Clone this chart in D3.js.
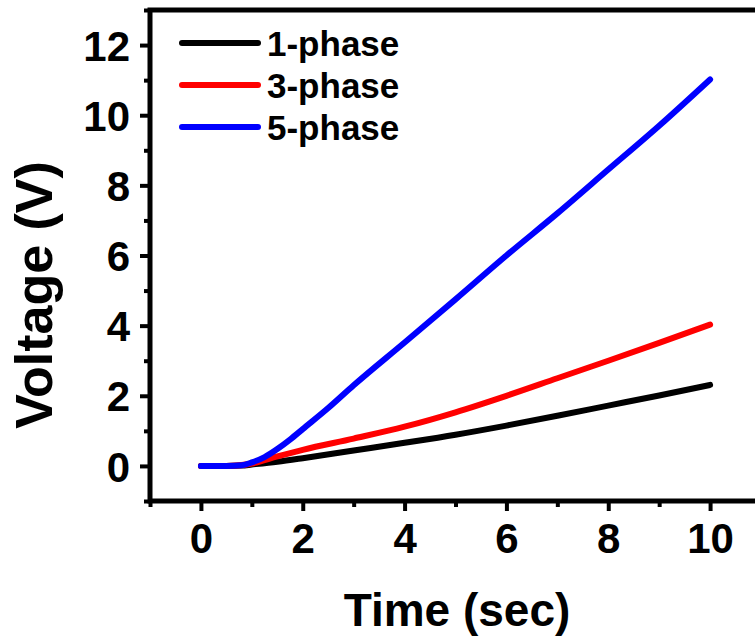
<!DOCTYPE html>
<html>
<head>
<meta charset="utf-8">
<script src="https://cdn.jsdelivr.net/npm/d3@7"></script>
<style>
  body { margin: 0; background: #fff; overflow: hidden; }
  text { font-family: "Liberation Sans", Arial, sans-serif; font-weight: bold; fill: #000; }
</style>
</head>
<body>
<div id="chart"></div>
<script>
// values
var time1 = [0, 0.5, 0.8, 1, 1.5, 2, 3, 4, 5, 6, 7, 8, 9, 10];
var phase1 = [0, 0, 0.01, 0.04, 0.12, 0.22, 0.44, 0.66, 0.89, 1.15, 1.43, 1.72, 2.01, 2.31];

var time3 = [0, 0.5, 0.7, 1, 1.5, 2, 3, 4, 5, 6, 7, 8, 9, 10];
var phase3 = [0, 0, 0.01, 0.07, 0.27, 0.46, 0.78, 1.12, 1.53, 2.0, 2.5, 3.0, 3.51, 4.03];

var time5 = [0, 0.5, 0.8, 1, 1.25, 1.5, 1.75, 2, 2.5, 3, 4, 5, 6, 7, 8, 9, 10];
var phase5 = [0, 0, 0.02, 0.1, 0.25, 0.48, 0.75, 1.05, 1.65, 2.3, 3.52, 4.75, 6.0, 7.2, 8.45, 9.7, 11.02];

var seriesNames = ["1-phase", "3-phase", "5-phase"];
var seriesColors = ["#000000", "#ff0000", "#0000ff"];

var xMajor = [0, 2, 4, 6, 8, 10];
var xMinor = [-1, 1, 3, 5, 7, 9, 11];
var yMajor = [0, 2, 4, 6, 8, 10, 12];
var yMinor = [-1, 1, 3, 5, 7, 9, 11, 13];

var width = 755, height = 642;

var svg = d3.select("#chart").append("svg")
    .attr("width", width)
    .attr("height", height);

var x = d3.scaleLinear().domain([-1, 11]).range([150, 761]);
var y = d3.scaleLinear().domain([-1, 13]).range([501, 10]);

// frame (right side falls outside the window, as in the picture)
svg.append("rect")
    .attr("x", x(-1))
    .attr("y", y(13))
    .attr("width", x(11) - x(-1))
    .attr("height", y(-1) - y(13))
    .attr("fill", "none")
    .attr("stroke", "#000")
    .attr("stroke-width", 5);

// minor ticks
svg.append("g")
    .attr("transform", "translate(0," + y(-1) + ")")
    .call(d3.axisBottom(x).tickValues(xMinor).tickSize(6).tickSizeOuter(0).tickFormat(""))
    .call(function(g) { g.select(".domain").remove(); })
    .selectAll("line").attr("stroke-width", 4);

svg.append("g")
    .attr("transform", "translate(" + x(-1) + ",0)")
    .call(d3.axisLeft(y).tickValues(yMinor).tickSize(6).tickSizeOuter(0).tickFormat(""))
    .call(function(g) { g.select(".domain").remove(); })
    .selectAll("line").attr("stroke-width", 4);

// major ticks + labels
var xAxis = svg.append("g")
    .attr("transform", "translate(0," + y(-1) + ")")
    .call(d3.axisBottom(x).tickValues(xMajor).tickSize(10).tickSizeOuter(0).tickPadding(12));
xAxis.select(".domain").remove();
xAxis.selectAll("line").attr("stroke-width", 4);
xAxis.selectAll("text")
    .attr("font-size", 42)
    .attr("font-family", "Liberation Sans, Arial, sans-serif")
    .attr("font-weight", "bold")
    .attr("fill", "#000")
    .attr("y", 52)
    .attr("dy", 0);

var yAxis = svg.append("g")
    .attr("transform", "translate(" + x(-1) + ",0)")
    .call(d3.axisLeft(y).tickValues(yMajor).tickSize(10).tickSizeOuter(0).tickPadding(10));
yAxis.select(".domain").remove();
yAxis.selectAll("line").attr("stroke-width", 4);
yAxis.selectAll("text")
    .attr("font-size", 42)
    .attr("font-family", "Liberation Sans, Arial, sans-serif")
    .attr("font-weight", "bold")
    .attr("fill", "#000")
    .attr("dy", "0.36em");

// axis titles
svg.append("text")
    .attr("x", 457)
    .attr("y", 626)
    .attr("text-anchor", "middle")
    .attr("font-size", 46)
    .text("Time (sec)");

svg.append("text")
    .attr("transform", "translate(52,295) rotate(-90)")
    .attr("text-anchor", "middle")
    .attr("font-size", 52)
    .text("Voltage (V)");

// curves
var series = [
    { t: time1, v: phase1 },
    { t: time3, v: phase3 },
    { t: time5, v: phase5 }
];

var line = d3.line()
    .x(function(d) { return x(d[0]); })
    .y(function(d) { return y(d[1]); })
    .curve(d3.curveMonotoneX);

series.forEach(function(s, i) {
    var pts = s.t.map(function(t, j) { return [t, s.v[j]]; });
    svg.append("path")
        .datum(pts)
        .attr("d", line)
        .attr("fill", "none")
        .attr("stroke", seriesColors[i])
        .attr("stroke-width", 6)
        .attr("stroke-linecap", "round")
        .attr("stroke-linejoin", "round");
});

// legend
var legend = svg.append("g");
seriesNames.forEach(function(name, i) {
    var ly = 43 + i * 42;
    legend.append("line")
        .attr("x1", 182).attr("x2", 258)
        .attr("y1", ly).attr("y2", ly)
        .attr("stroke", seriesColors[i])
        .attr("stroke-width", 6)
        .attr("stroke-linecap", "round");
    legend.append("text")
        .attr("x", 267)
        .attr("y", ly)
        .attr("dy", "0.36em")
        .attr("font-size", 35)
        .text(name);
});
</script>
</body>
</html>
